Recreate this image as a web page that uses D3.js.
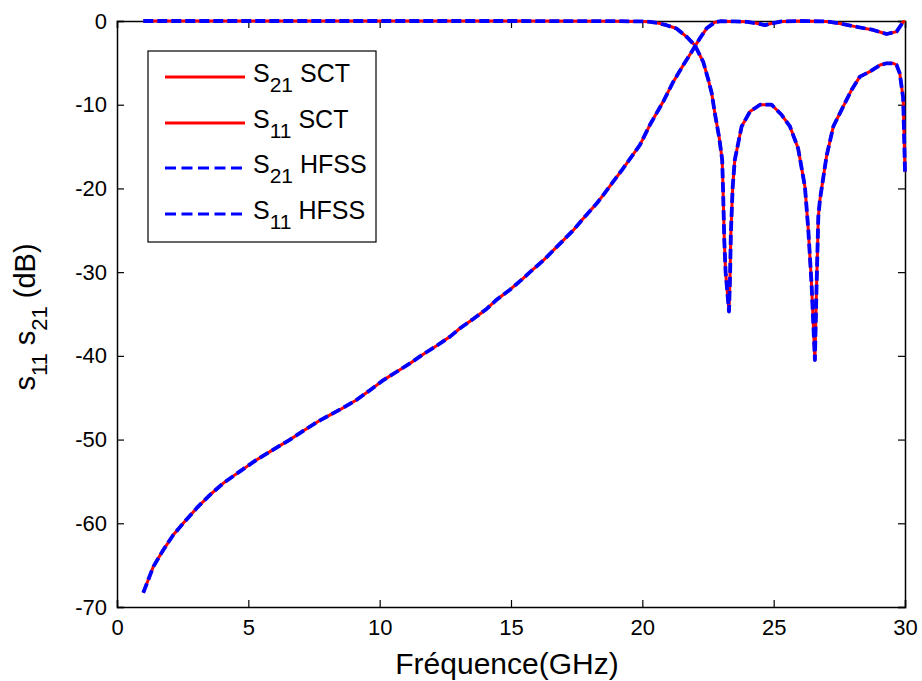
<!DOCTYPE html>
<html>
<head>
<meta charset="utf-8">
<script src="https://cdn.jsdelivr.net/npm/d3@7"></script>
<style>
  html, body { margin: 0; padding: 0; background: #fff; }
  svg { display: block; font-family: "Liberation Sans", Arial, sans-serif; }
</style>
</head>
<body>
<svg id="chart" width="922" height="681"></svg>
<script>
// ---------- DATA ----------
const freqS21 = [1.0, 1.38, 1.76, 2.14, 2.52, 3.03, 3.54, 4.05, 4.68, 5.32, 5.95, 6.59, 7.22, 7.73, 8.5, 9.1,
  9.63, 10.14, 10.65, 11.15, 11.66, 12.17, 12.68, 13.06, 13.56, 14.07, 14.45, 14.96, 15.41, 15.72, 16.23, 16.61,
  16.99, 17.37, 17.75, 18.26, 18.51, 19.27, 19.91, 20.29, 20.8, 21.18, 21.56, 21.88, 22.19, 22.45, 22.76, 23.0,
  23.5, 24.0, 24.4, 24.67, 24.9, 25.3, 26.0, 27.0, 27.52, 28.16, 28.79, 29.3, 29.68, 29.93, 30.0];
const s21SCT = [-68.3, -65.2, -63.2, -61.4, -60.0, -58.2, -56.6, -55.2, -53.8, -52.4, -51.2, -50.0, -48.7, -47.7, -46.4, -45.3,
  -44.1, -42.9, -41.9, -40.9, -39.8, -38.8, -37.7, -36.7, -35.6, -34.4, -33.3, -32.1, -30.9, -30.0, -28.6, -27.4,
  -26.2, -25.0, -23.6, -21.8, -20.8, -17.6, -14.8, -12.4, -9.6, -7.25, -5.26, -3.67, -2.07, -0.87, -0.15, -0.02,
  -0.05, -0.1, -0.3, -0.5, -0.3, -0.05, 0, -0.05, -0.3, -0.7, -1.07, -1.55, -1.27, -0.1, 0];
const s21HFSS = [-68.3, -65.2, -63.2, -61.4, -60.0, -58.2, -56.6, -55.2, -53.8, -52.4, -51.2, -50.0, -48.7, -47.7, -46.4, -45.3,
  -44.1, -42.9, -41.9, -40.9, -39.8, -38.8, -37.7, -36.7, -35.6, -34.4, -33.3, -32.1, -30.9, -30.0, -28.6, -27.4,
  -26.2, -25.0, -23.6, -21.8, -20.8, -17.6, -14.8, -12.4, -9.6, -7.25, -5.26, -3.67, -2.07, -0.87, -0.15, -0.02,
  -0.05, -0.1, -0.3, -0.5, -0.3, -0.05, 0, -0.05, -0.3, -0.7, -1.07, -1.55, -1.27, -0.1, 0];

const freqS11 = [1, 5, 10, 15, 19, 20.0, 20.29, 20.6, 20.92, 21.3, 21.69, 22.0, 22.32, 22.51, 22.64, 22.76, 22.93,
  23.04, 23.08, 23.12, 23.17, 23.30, 23.34, 23.37, 23.44, 23.52, 23.78, 24.10, 24.48, 24.92, 25.30, 25.62, 25.93,
  26.19, 26.32, 26.44, 26.57, 26.63, 26.70, 26.76, 27.01, 27.27, 27.65, 27.97, 28.28, 28.66, 29.05, 29.3, 29.55,
  29.68, 29.8, 29.93, 30.0];
const s11SCT = [0, 0, 0, 0, -0.02, -0.05, -0.1, -0.25, -0.5, -0.9, -1.9, -2.9, -4.9, -7.0, -8.6, -11.0, -14.0,
  -16.6, -21.0, -26.2, -30.0, -34.7, -30.5, -25.4, -19.8, -16.6, -12.6, -10.8, -10.0, -10.0, -11.2, -12.6, -15.2,
  -19.8, -25.0, -31.3, -40.5, -32.1, -23.4, -21.4, -16.2, -12.6, -10.2, -8.2, -6.65, -6.05, -5.26, -5.05, -5.05,
  -5.26, -6.25, -9.2, -18.0];
const s11HFSS = [0, 0, 0, 0, -0.02, -0.05, -0.1, -0.25, -0.5, -0.9, -1.9, -2.9, -4.9, -7.0, -8.6, -11.0, -14.0,
  -16.6, -21.0, -26.2, -30.0, -34.7, -30.5, -25.4, -19.8, -16.6, -12.6, -10.8, -10.0, -10.0, -11.2, -12.6, -15.2,
  -19.8, -25.0, -31.3, -40.5, -32.1, -23.4, -21.4, -16.2, -12.6, -10.2, -8.2, -6.65, -6.05, -5.26, -5.05, -5.05,
  -5.26, -6.25, -9.2, -18.0];

const xTicks = [0, 5, 10, 15, 20, 25, 30];
const yTicks = [0, -10, -20, -30, -40, -50, -60, -70];
const legendNames = [["S", "21", " SCT"], ["S", "11", " SCT"], ["S", "21", " HFSS"], ["S", "11", " HFSS"]];

// ---------- LAYOUT ----------
const svg = d3.select("#chart");
const L = 117, R = 905, T = 21, B = 607;
const x = d3.scaleLinear().domain([0, 30]).range([L, R]);
const y = d3.scaleLinear().domain([-70, 0]).range([B, T]);

const RED = "#ff0000", BLUE = "#0000ff";
const fmt = d => String(d);

// axes (MATLAB box with inward ticks)
const tickLen = 7;
const gx = svg.append("g").attr("transform", `translate(0,${B})`)
  .call(d3.axisBottom(x).tickValues(xTicks).tickFormat(fmt).tickSize(-tickLen).tickPadding(12));
const gxt = svg.append("g").attr("transform", `translate(0,${T})`)
  .call(d3.axisTop(x).tickValues(xTicks).tickFormat("").tickSize(-tickLen));
const gy = svg.append("g").attr("transform", `translate(${L},0)`)
  .call(d3.axisLeft(y).tickValues(yTicks).tickFormat(fmt).tickSize(-tickLen).tickPadding(10));
const gyr = svg.append("g").attr("transform", `translate(${R},0)`)
  .call(d3.axisRight(y).tickValues(yTicks).tickFormat("").tickSize(-tickLen));
[gx, gxt, gy, gyr].forEach(g => {
  g.select(".domain").attr("stroke", "#000").attr("stroke-width", 1.5);
  g.selectAll(".tick line").attr("stroke", "#000").attr("stroke-width", 1.2);
  g.selectAll(".tick text").attr("fill", "#000").style("font-size", "22px")
    .style("font-family", "'Liberation Sans', Arial, sans-serif");
});
gx.selectAll(".tick text").attr("dy", "0.71em");

// ---------- CURVES ----------
const line = d3.line().x(d => x(d[0])).y(d => y(d[1]));
const zip = (a, b) => a.map((v, i) => [v, b[i]]);

const series = [
  { f: freqS21, v: s21SCT, color: RED, dash: null, w: 3 },
  { f: freqS11, v: s11SCT, color: RED, dash: null, w: 3 },
  { f: freqS21, v: s21HFSS, color: BLUE, dash: "10,4", w: 3.8 },
  { f: freqS11, v: s11HFSS, color: BLUE, dash: "10,4", w: 3.8 }
];
series.forEach(s => {
  svg.append("path")
    .datum(zip(s.f, s.v))
    .attr("d", line)
    .attr("fill", "none")
    .attr("stroke", s.color)
    .attr("stroke-width", s.w)
    .attr("stroke-linejoin", "round")
    .attr("stroke-dasharray", s.dash);
});

// ---------- LABELS ----------
svg.append("text")
  .attr("x", (L + R) / 2 - 4).attr("y", 674)
  .attr("text-anchor", "middle")
  .style("font-size", "30px")
  .text("Fréquence(GHz)");

const yl = svg.append("text")
  .attr("transform", `translate(35,${(T + B) / 2 + 3}) rotate(-90)`)
  .attr("text-anchor", "middle")
  .style("font-size", "29px");
yl.append("tspan").text("s");
yl.append("tspan").attr("dy", 12).style("font-size", "22px").text("11");
yl.append("tspan").attr("dy", -12).text(" s");
yl.append("tspan").attr("dy", 12).style("font-size", "22px").text("21");
yl.append("tspan").attr("dy", -12).text(" (dB)");

// ---------- LEGEND ----------
const lg = svg.append("g");
lg.append("rect").attr("x", 148).attr("y", 51).attr("width", 228).attr("height", 191)
  .attr("fill", "#fff").attr("stroke", "#000").attr("stroke-width", 1.2);
const rowY = [77, 123, 168, 214];
legendNames.forEach((nm, i) => {
  const s = series[i];
  lg.append("line")
    .attr("x1", 165).attr("x2", s.dash ? 242 : 245)
    .attr("y1", rowY[i]).attr("y2", rowY[i])
    .attr("stroke", s.color).attr("stroke-width", 3)
    .attr("stroke-dasharray", s.dash ? "11,5.5" : null);
  const t = lg.append("text").attr("x", 253).attr("y", rowY[i] + 5).style("font-size", "25px");
  t.append("tspan").text(nm[0]);
  t.append("tspan").attr("dy", 10).style("font-size", "21px").text(nm[1]);
  t.append("tspan").attr("dy", -10).text(nm[2]);
});
</script>
</body>
</html>
